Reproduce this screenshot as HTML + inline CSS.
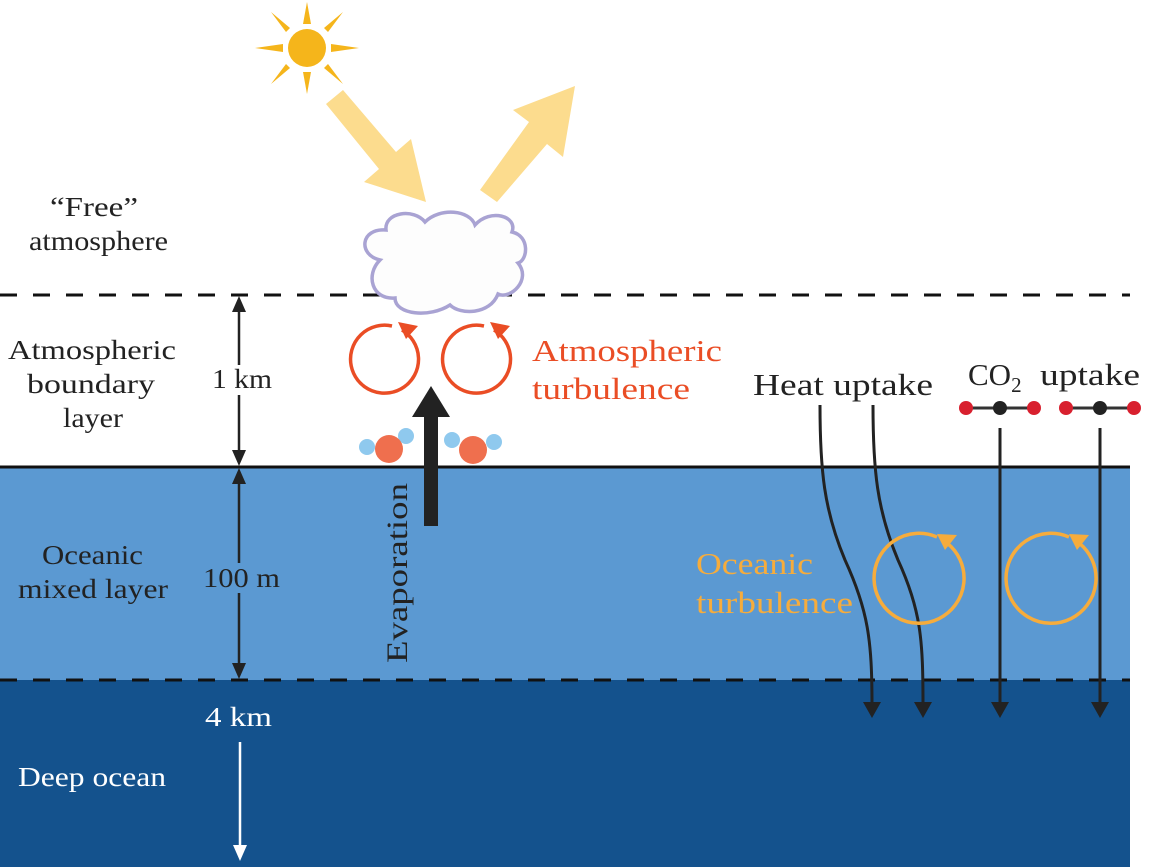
<!DOCTYPE html>
<html><head><style>
html,body{margin:0;padding:0;background:#fff;}
svg{display:block;font-family:"Liberation Serif",serif;}
</style></head><body>
<svg width="1163" height="867" viewBox="0 0 1163 867" xmlns="http://www.w3.org/2000/svg">
<rect x="0" y="467" width="1130" height="213" fill="#5b99d2"/>
<rect x="0" y="680" width="1130" height="187" fill="#14528d"/>
<line x1="0" y1="467" x2="1130" y2="467" stroke="#111" stroke-width="3"/>
<line x1="0" y1="295" x2="1130" y2="295" stroke="#111" stroke-width="3" stroke-dasharray="17,16"/>
<line x1="0" y1="680" x2="1130" y2="680" stroke="#111" stroke-width="3" stroke-dasharray="17,16"/>

<g fill="#f5b51b">
<circle cx="307" cy="48" r="19"/>
<polygon points="307,2 303,24 311,24"/><polygon points="307,94 303,72 311,72"/>
<polygon points="255,48 283,44 283,52"/><polygon points="359,48 331,44 331,52"/>
<polygon points="271,12 290,28 286,32"/><polygon points="343,84 324,68 328,64"/>
<polygon points="343,12 324,28 328,32"/><polygon points="271,84 290,68 286,64"/>
</g>
<g fill="#fcdc8e">
<polygon points="326,104 343,90 396,152 411,139 426,202 364,182 379,169"/>
<polygon points="480,190 497,202 547,144 563,157 575,86 513,110 529,122"/>
</g>
<path d="M380,260 C358,255 360,228 386,230 C384,212 414,208 425,222 C440,207 470,210 475,225 C490,208 518,216 512,232 C530,236 528,260 518,263 C532,280 510,300 498,294 C490,315 460,315 450,305 C430,318 395,315 395,298 C372,300 365,275 380,260 Z" fill="#fdfdfd" stroke="#a9a3d3" stroke-width="3.5"/>

<g fill="none" stroke="#ea4d25" stroke-width="3.5">
<path d="M402,330 A34,34 0 1 1 392,326"/>
<path d="M494,330 A34,34 0 1 1 484,326"/>
</g>
<g fill="#ea4d25">
<polygon points="398,322 418,326 406,339"/>
<polygon points="490,322 510,326 498,339"/>
</g>

<g fill="#8fc9ee">
<circle cx="367" cy="447" r="8"/><circle cx="406" cy="436" r="8"/>
<circle cx="452" cy="440" r="8"/><circle cx="494" cy="442" r="8"/>
</g>
<g fill="#ef6f4e">
<circle cx="389" cy="449" r="14"/><circle cx="473" cy="450" r="14"/>
</g>
<rect x="424" y="414" width="14" height="112" fill="#222"/>
<polygon points="412,417 450,417 431,386" fill="#222"/>

<g stroke="#222" stroke-width="2.5" fill="#222">
<line x1="239" y1="305" x2="239" y2="365"/>
<line x1="239" y1="395" x2="239" y2="457"/>
<polygon points="232,312 246,312 239,296" stroke="none"/>
<polygon points="232,450 246,450 239,466" stroke="none"/>
<line x1="239" y1="477" x2="239" y2="563"/>
<line x1="239" y1="593" x2="239" y2="670"/>
<polygon points="232,484 246,484 239,468" stroke="none"/>
<polygon points="232,663 246,663 239,679" stroke="none"/>
</g>
<g stroke="#fff" stroke-width="2.5" fill="#fff">
<line x1="240" y1="742" x2="240" y2="848"/>
<polygon points="233,845 247,845 240,861" stroke="none"/>
</g>

<g fill="none" stroke="#222" stroke-width="3">
<path d="M820,405 C820,470 824,510 845,560 C868,610 872,640 872,705"/>
<path d="M873,405 C873,470 877,510 898,560 C921,610 923,640 923,705"/>
<line x1="1000" y1="428" x2="1000" y2="705"/>
<line x1="1100" y1="428" x2="1100" y2="705"/>
</g>
<g fill="#222">
<polygon points="863,702 881,702 872,718"/>
<polygon points="914,702 932,702 923,718"/>
<polygon points="991,702 1009,702 1000,718"/>
<polygon points="1091,702 1109,702 1100,718"/>
</g>
<g stroke="#333" stroke-width="3"><line x1="966" y1="408" x2="1034" y2="408"/><line x1="1066" y1="408" x2="1134" y2="408"/></g>
<g fill="#d8202e"><circle cx="966" cy="408" r="7"/><circle cx="1034" cy="408" r="7"/><circle cx="1066" cy="408" r="7"/><circle cx="1134" cy="408" r="7"/></g>
<g fill="#222"><circle cx="1000" cy="408" r="7"/><circle cx="1100" cy="408" r="7"/></g>

<g fill="none" stroke="#f6ac3c" stroke-width="3.5">
<path d="M947,543 A45,45 0 1 1 937,537"/>
<path d="M1079,543 A45,45 0 1 1 1069,537"/>
</g>
<g fill="#f6ac3c">
<polygon points="937,534 957,535 945,550"/>
<polygon points="1069,534 1089,535 1077,550"/>
</g>

<g fill="#222" font-size="27">
<text x="50" y="216" textLength="88" lengthAdjust="spacingAndGlyphs">“Free”</text>
<text x="29" y="250" textLength="139" lengthAdjust="spacingAndGlyphs">atmosphere</text>
<text x="8" y="359" textLength="168" lengthAdjust="spacingAndGlyphs">Atmospheric</text>
<text x="27" y="393" textLength="128" lengthAdjust="spacingAndGlyphs">boundary</text>
<text x="63" y="427" textLength="60" lengthAdjust="spacingAndGlyphs">layer</text>
<text x="42" y="564" textLength="101" lengthAdjust="spacingAndGlyphs">Oceanic</text>
<text x="18" y="598" textLength="150" lengthAdjust="spacingAndGlyphs">mixed layer</text>
<text x="212" y="388" textLength="60" lengthAdjust="spacingAndGlyphs">1 km</text>
<text x="203" y="587" textLength="77" lengthAdjust="spacingAndGlyphs">100 m</text>
</g>
<g fill="#fff" font-size="27">
<text x="205" y="726" textLength="67" lengthAdjust="spacingAndGlyphs">4 km</text>
<text x="18" y="786" textLength="148" lengthAdjust="spacingAndGlyphs">Deep ocean</text>
</g>
<text x="0" y="0" font-size="30" fill="#222" transform="translate(407,663) rotate(-90)" textLength="180" lengthAdjust="spacingAndGlyphs">Evaporation</text>
<g fill="#ea4d25" font-size="31">
<text x="532" y="361" textLength="190" lengthAdjust="spacingAndGlyphs">Atmospheric</text>
<text x="532" y="399" textLength="158" lengthAdjust="spacingAndGlyphs">turbulence</text>
</g>
<g fill="#f6ac3c" font-size="31">
<text x="696" y="574" textLength="117" lengthAdjust="spacingAndGlyphs">Oceanic</text>
<text x="696" y="613" textLength="157" lengthAdjust="spacingAndGlyphs">turbulence</text>
</g>
<g fill="#222" font-size="31">
<text x="753" y="395" textLength="180" lengthAdjust="spacingAndGlyphs">Heat uptake</text>
<text x="968" y="385">CO<tspan font-size="21" dy="7">2</tspan></text>
<text x="1040" y="385" textLength="100" lengthAdjust="spacingAndGlyphs">uptake</text>
</g>
</svg>
</body></html>
